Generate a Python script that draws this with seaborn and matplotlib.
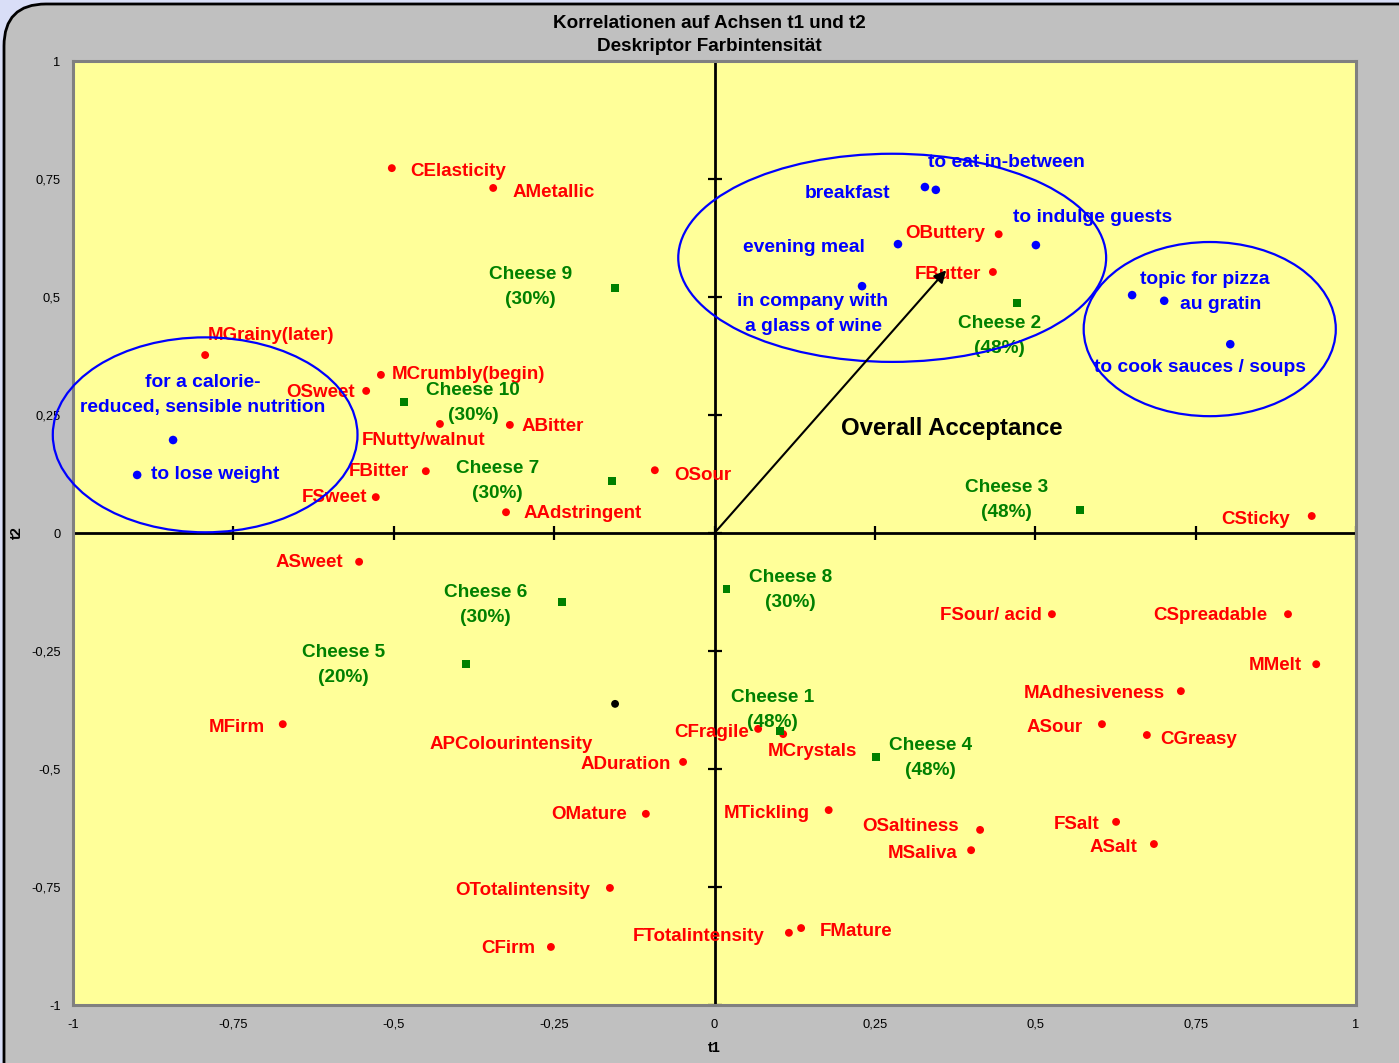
import matplotlib
matplotlib.use('Agg')
import matplotlib.pyplot as plt
from matplotlib.patches import Ellipse, FancyBboxPatch
import seaborn as sns
import pandas as pd

# descriptor coordinates (t1, t2)
desc_names = ['CElasticity', 'AMetallic', 'MGrainy(later)', 'MCrumbly(begin)', 'OSweet',
              'FNutty/walnut', 'ABitter', 'FBitter', 'FSweet', 'OSour', 'AAdstringent',
              'OButtery', 'FButter', 'CSticky', 'ASweet', 'FSour/ acid', 'CSpreadable',
              'MMelt', 'MAdhesiveness', 'MFirm', 'ASour', 'CGreasy', 'CFragile', 'MCrystals',
              'ADuration', 'MTickling', 'OMature', 'OSaltiness', 'MSaliva', 'FSalt', 'ASalt',
              'OTotalintensity', 'FTotalintensity', 'FMature', 'CFirm']
desc_t1 = [-0.503, -0.345, -0.794, -0.520, -0.543, -0.428, -0.319, -0.450, -0.528, -0.093, -0.325,
           0.443, 0.434, 0.931, -0.554, 0.526, 0.894, 0.938, 0.727, -0.673, 0.604, 0.674,
           0.068, 0.107, -0.049, 0.178, -0.107, 0.414, 0.400, 0.626, 0.685, -0.163, 0.116,
           0.135, -0.255]
desc_t2 = [0.773, 0.731, 0.377, 0.335, 0.301, 0.231, 0.229, 0.131, 0.076, 0.133, 0.044,
           0.633, 0.553, 0.036, -0.061, -0.172, -0.172, -0.278, -0.335, -0.405, -0.405, -0.428,
           -0.415, -0.426, -0.485, -0.587, -0.595, -0.629, -0.672, -0.612, -0.659, -0.752, -0.847,
           -0.837, -0.877]

# highlighted descriptor (colour intensity)
focus_name = 'APColourintensity'
focus_t1 = -0.155
focus_t2 = -0.362

# cheeses
cheese_names = ['Cheese 9\n(30%)', 'Cheese 10\n(30%)', 'Cheese 7\n(30%)', 'Cheese 2\n(48%)',
                'Cheese 3\n(48%)', 'Cheese 8\n(30%)', 'Cheese 6\n(30%)', 'Cheese 5\n(20%)',
                'Cheese 1\n(48%)', 'Cheese 4\n(48%)']
cheese_t1 = [-0.155, -0.484, -0.160, 0.472, 0.570, 0.019, -0.238, -0.387, 0.102, 0.252]
cheese_t2 = [0.519, 0.278, 0.110, 0.487, 0.049, -0.119, -0.146, -0.278, -0.419, -0.475]

# consumption situations
use_names = ['for a calorie-\nreduced, sensible nutrition', 'to lose weight', 'breakfast',
             'to eat in-between', 'evening meal', 'to indulge guests',
             'in company with\na glass of wine', 'topic for pizza', 'au gratin',
             'to cook sauces / soups']
use_t1 = [-0.844, -0.900, 0.328, 0.345, 0.286, 0.501, 0.230, 0.651, 0.701, 0.804]
use_t2 = [0.197, 0.123, 0.733, 0.727, 0.612, 0.610, 0.523, 0.504, 0.492, 0.400]

# preference vector
accept_t1 = 0.364
accept_t2 = 0.561

# group ellipses: centre t1, centre t2, width, height
group_cx = [-0.794, 0.277, 0.772]
group_cy = [0.208, 0.583, 0.432]
group_w = [0.475, 0.667, 0.393]
group_h = [0.413, 0.441, 0.369]

tick_vals = [-1, -0.75, -0.5, -0.25, 0, 0.25, 0.5, 0.75, 1]

# label offsets in pixels (dx, dy, ha)
desc_off = {
    'CElasticity': (18, -3, 'left'), 'AMetallic': (19, -5, 'left'),
    'MGrainy(later)': (3, 20, 'left'), 'MCrumbly(begin)': (11, 0, 'left'),
    'OSweet': (-11, -2, 'right'), 'FNutty/walnut': (-78, -17, 'left'),
    'ABitter': (12, -2, 'left'), 'FBitter': (-17, 0, 'right'), 'FSweet': (-9, 0, 'right'),
    'OSour': (19, -5, 'left'), 'AAdstringent': (18, -1, 'left'),
    'OButtery': (-14, 1, 'right'), 'FButter': (-12, -3, 'right'), 'CSticky': (-22, -3, 'right'),
    'ASweet': (-16, -1, 'right'), 'FSour/ acid': (-10, -1, 'right'),
    'CSpreadable': (-21, -1, 'right'), 'MMelt': (-14, -1, 'right'),
    'MAdhesiveness': (-16, -2, 'right'), 'MFirm': (-18, -3, 'right'),
    'ASour': (-19, -3, 'right'), 'CGreasy': (13, -4, 'left'), 'CFragile': (-9, -4, 'right'),
    'MCrystals': (-15, -17, 'left'), 'ADuration': (-12, -3, 'right'),
    'MTickling': (-19, -3, 'right'), 'OMature': (-19, -1, 'right'),
    'OSaltiness': (-21, 3, 'right'), 'MSaliva': (-14, -3, 'right'), 'FSalt': (-17, -3, 'right'),
    'ASalt': (-17, -3, 'right'), 'OTotalintensity': (-20, -3, 'right'),
    'FTotalintensity': (-24, -4, 'right'), 'FMature': (19, -3, 'left'), 'CFirm': (-16, -2, 'right'),
}
cheese_off = [(-85, 1), (69, -1), (-114, 0), (-18, -33), (-74, 10), (64, -1), (-76, -3),
              (-123, -1), (-7, 21), (54, -1)]
use_off = [(30, 45, 'center'), (14, 0, 'left'), (-35, -6, 'right'), (-8, 27, 'left'),
           (-33, -3, 'right'), (-23, 28, 'left'), (-49, -28, 'center'), (8, 16, 'left'),
           (16, -4, 'left'), (-30, -23, 'center')]

sns.set_style('white')
plt.rcParams['font.family'] = ['Liberation Sans', 'DejaVu Sans']
plt.rcParams['text.color'] = 'black'
plt.rcParams['axes.labelcolor'] = 'black'
plt.rcParams['xtick.color'] = 'black'
plt.rcParams['ytick.color'] = 'black'

fig = plt.figure(figsize=(13.99, 10.63), dpi=100)
fig.patch.set_facecolor('#D9DEF7')
# rounded grey frame, runs off the right and bottom edges
frame = FancyBboxPatch((4 / 1399, -0.1), 1.2, 1.1 - 4 / 1063,
                       boxstyle='round,pad=0,rounding_size=0.03',
                       transform=fig.transFigure, facecolor='#C0C0C0',
                       edgecolor='black', linewidth=2, mutation_aspect=1399 / 1063,
                       zorder=-10)
fig.patches.append(frame)

ax = fig.add_axes([73 / 1399, 58 / 1063, 1283 / 1399, 944 / 1063])
ax.set_zorder(1)
ax.set_facecolor('#FFFF99')
ax.set_xlim(-1, 1)
ax.set_ylim(-1, 1)
for s in ax.spines.values():
    s.set_color('#808080')
    s.set_linewidth(2.2)

fmt = [('%g' % v).replace('.', ',') for v in tick_vals]
ax.set_xticks(tick_vals)
ax.set_xticklabels(fmt, fontsize=9.3)
ax.set_yticks(tick_vals)
ax.set_yticklabels(fmt, fontsize=9.3)
ax.tick_params(axis='x', length=0, pad=10)
ax.tick_params(axis='y', length=0, pad=9)

# zero axes with cross ticks
ax.axhline(0, color='black', lw=2, zorder=1)
ax.axvline(0, color='black', lw=2, zorder=1)
ax.scatter(tick_vals, [0] * len(tick_vals), marker='|', s=90, color='black', lw=1.6, zorder=1)
ax.scatter([0] * len(tick_vals), tick_vals, marker='_', s=90, color='black', lw=1.6, zorder=1)

ax.set_xlabel('t1', fontsize=10.5, fontweight='bold', labelpad=7)
ax.set_ylabel('t2', fontsize=10.5, fontweight='bold', labelpad=5)

fig.text(709 / 1399, 1 - 35 / 1063, 'Korrelationen auf Achsen t1 und t2\nDeskriptor Farbintensität',
         ha='center', va='center', fontsize=13.6, fontweight='bold', linespacing=1.45)

df_desc = pd.DataFrame({'t1': desc_t1, 't2': desc_t2, 'name': desc_names})
df_cheese = pd.DataFrame({'t1': cheese_t1, 't2': cheese_t2, 'name': cheese_names})
df_use = pd.DataFrame({'t1': use_t1, 't2': use_t2, 'name': use_names})

sns.scatterplot(data=df_desc, x='t1', y='t2', color='#FF0000', s=32, edgecolor='none',
                ax=ax, zorder=3)
sns.scatterplot(x=[focus_t1], y=[focus_t2], color='black', s=32, edgecolor='none', ax=ax, zorder=3)
sns.scatterplot(data=df_cheese, x='t1', y='t2', color='#008000', marker='s', s=30,
                edgecolor='none', ax=ax, zorder=3)
sns.scatterplot(data=df_use, x='t1', y='t2', color='#0000FF', s=38, edgecolor='none',
                ax=ax, zorder=3)

lab = dict(fontweight='bold', textcoords='offset pixels', va='center', zorder=4)
for n, x, y in zip(desc_names, desc_t1, desc_t2):
    dx, dy, ha = desc_off[n]
    ax.annotate(n, (x, y), xytext=(dx, dy), ha=ha, color='#FF0000', fontsize=13.5, **lab)
ax.annotate(focus_name, (focus_t1, focus_t2), xytext=(-22, -41), ha='right', color='#FF0000',
            fontsize=13.5, **lab)
for n, x, y, (dx, dy) in zip(cheese_names, cheese_t1, cheese_t2, cheese_off):
    ax.annotate(n, (x, y), xytext=(dx, dy), ha='center', color='#008000', linespacing=1.6,
                multialignment='center', fontsize=13.7, **lab)
for n, x, y, (dx, dy, ha) in zip(use_names, use_t1, use_t2, use_off):
    ax.annotate(n, (x, y), xytext=(dx, dy), ha=ha, color='#0000FF', linespacing=1.6,
                multialignment='center', fontsize=13.9, **lab)

for cx, cy, w, h in zip(group_cx, group_cy, group_w, group_h):
    ax.add_patch(Ellipse((cx, cy), w, h, fill=False, edgecolor='#0000FF', lw=1.6, zorder=5,
                         clip_on=False))

ax.annotate('', xy=(accept_t1, accept_t2), xytext=(0, 0),
            arrowprops=dict(arrowstyle='-|>', color='black', lw=1.5, mutation_scale=18), zorder=5)
ax.text(0.197, 0.222, 'Overall Acceptance', fontsize=17.3, fontweight='bold', color='black',
        ha='left', va='center', zorder=5)

fig.savefig('out.png', dpi=100, facecolor=fig.get_facecolor())
